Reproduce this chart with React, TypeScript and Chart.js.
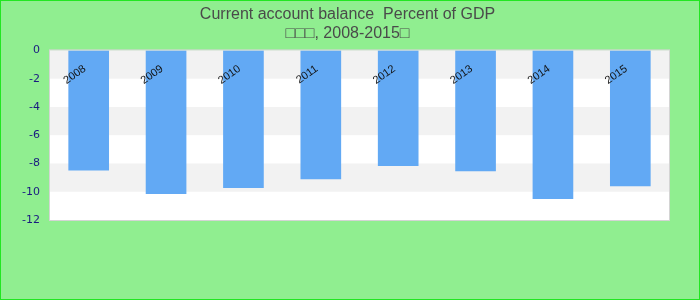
import React, { useEffect, useRef } from "react";
import { Chart, registerables } from "chart.js";

Chart.register(...registerables);

const years: string[] = ["2008", "2009", "2010", "2011", "2012", "2013", "2014", "2015"];
const balance: number[] = [-8.47, -10.14, -9.72, -9.1, -8.16, -8.52, -10.49, -9.58];
const yMin = -12;
const yMax = 0;
const yStep = 2;
const titleLines: string[] = ["Current account balance  Percent of GDP", "\u25A1\u25A1\u25A1, 2008-2015\u25A1"];

const bandsPlugin = {
  id: "bands",
  beforeDraw(chart: any) {
    const { ctx, chartArea: a, scales } = chart;
    const y = scales.y;
    ctx.save();
    ctx.fillStyle = "#ffffff";
    ctx.fillRect(a.left, a.top, a.right - a.left, a.bottom - a.top);
    ctx.fillStyle = "#f2f2f2";
    for (const t of y.ticks) {
      const v = t.value;
      if (v <= yMin) continue;
      if (Math.round(v) % 4 === 0) {
        const p1 = y.getPixelForValue(v);
        const p2 = y.getPixelForValue(v - yStep);
        ctx.fillRect(a.left, p1, a.right - a.left, p2 - p1);
      }
    }
    ctx.restore();
  },
  afterDraw(chart: any) {
    const { ctx, chartArea: a } = chart;
    ctx.save();
    ctx.strokeStyle = "#d4d4d4";
    ctx.lineWidth = 1;
    ctx.strokeRect(a.left - 0.5, a.top - 0.5, a.right - a.left + 1, a.bottom - a.top + 1);
    ctx.restore();
  },
};

export default function App() {
  const ref = useRef<HTMLCanvasElement | null>(null);
  useEffect(() => {
    if (!ref.current) return;
    const chart = new Chart(ref.current, {
      type: "bar",
      data: {
        labels: years,
        datasets: [
          {
            data: balance,
            backgroundColor: "#62a9f4",
            borderWidth: 0,
            barThickness: 40,
            yAxisID: "y",
          },
        ],
      },
      options: {
        responsive: false,
        animation: false,
        layout: { padding: { left: 0, right: 5, top: 0, bottom: 79 } },
        plugins: {
          legend: { display: false },
          tooltip: { enabled: false },
          title: {
            display: true,
            text: titleLines,
            color: "#4a4a4a",
            font: { family: "'Liberation Sans', Arial, sans-serif", size: 16, weight: "normal", lineHeight: 1.2 },
            padding: { top: 4, bottom: 7 },
          },
        },
        scales: {
          x: {
            position: { y: 0 } as any,
            grid: { display: false, drawTicks: false },
            border: { display: false },
            ticks: {
              z: 1,
              color: "#111111",
              minRotation: 35,
              maxRotation: 35,
              padding: 12,
              labelOffset: -4,
              autoSkip: false,
              font: { family: "'Liberation Sans', Arial, sans-serif", size: 11 },
            },
          },
          y: {
            min: yMin,
            max: yMax,
            grid: { display: false, drawTicks: false },
            border: { display: false },
            ticks: {
              stepSize: yStep,
              color: "#1a1a80",
              padding: 10,
              font: { family: "'DejaVu Sans', sans-serif", size: 11 },
            },
            afterFit: (s: any) => {
              s.width = 49;
            },
          },
          yRight: {
            position: "right",
            min: yMin,
            max: yMax,
            grid: { display: false, drawTicks: false },
            border: { display: false },
            ticks: { display: false },
            afterFit: (s: any) => {
              s.width = 25;
            },
          },
        },
      },
      plugins: [bandsPlugin],
    });
    return () => chart.destroy();
  }, []);

  return (
    <div
      style={{
        position: "absolute",
        left: 0,
        top: 0,
        width: 700,
        height: 300,
        boxSizing: "border-box",
        border: "1px solid #22e622",
        background: "#90ee90",
      }}
    >
      <canvas ref={ref} width={698} height={298} style={{ display: "block" }} />
    </div>
  );
}
